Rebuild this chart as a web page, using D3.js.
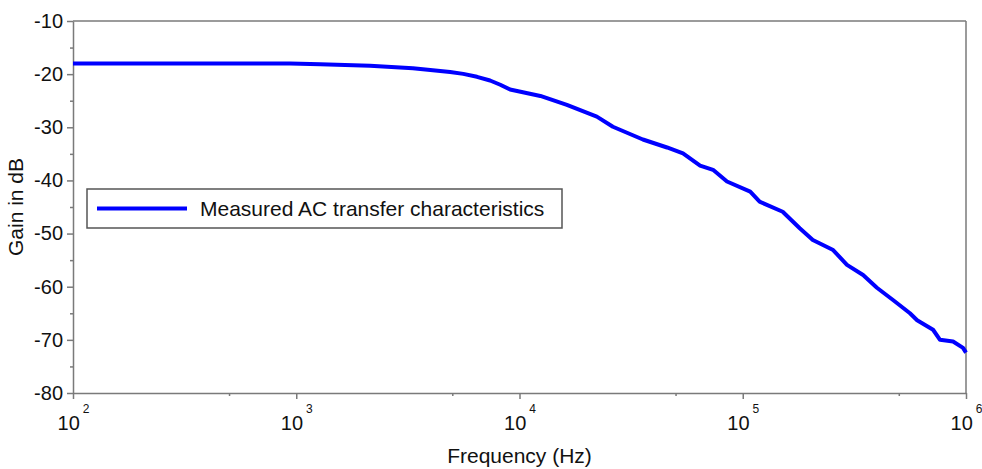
<!DOCTYPE html>
<html>
<head>
<meta charset="utf-8">
<script src="https://cdn.jsdelivr.net/npm/d3@7"></script>
<style>
  body { margin: 0; background: #fff; }
  svg { display: block; font-family: "Liberation Sans", Arial, sans-serif; }
  .axis path, .axis line { stroke: #7a7a7a; stroke-width: 1.5; }
  .axis text { fill: #111; }
</style>
</head>
<body>
<script>
// measured points
const frequencies = [100, 938, 1280, 2140, 3330, 4890, 5600, 6450, 7380, 8200, 9070, 12400, 16300, 22200,
  26200, 35700, 45800, 54000, 64400, 73600, 85000, 108000, 119000, 151000, 180000, 206000,
  254000, 293000, 346000, 399000, 471000, 561000, 604000, 712000, 765000, 875000, 970000, 1000000]
const gainDb = [-18.0, -18.0, -18.15, -18.4, -18.9, -19.6, -19.95, -20.5, -21.2, -22.0, -22.9, -24.1, -25.8, -28.0,
  -29.9, -32.3, -33.8, -34.9, -37.2, -38.0, -40.2, -42.1, -44.0, -45.9, -49.0, -51.2,
  -53.1, -55.9, -57.8, -60.2, -62.5, -65.0, -66.3, -68.1, -70.0, -70.3, -71.5, -72.4]

const xMajor = [1e2, 1e3, 1e4, 1e5, 1e6]
const xExponents = ['2', '3', '4', '5', '6']
const xMinor = [5e2, 5e3, 5e4, 5e5]
const yMajor = [-80, -70, -60, -50, -40, -30, -20, -10]
const yMinor = [-75, -65, -55, -45, -35, -25, -15]
const seriesName = 'Measured AC transfer characteristics'

const w = 982
const h = 469
const m = { top: 21, right: 16, bottom: 76, left: 73 }
const iw = w - m.left - m.right
const ih = h - m.top - m.bottom

const svg = d3.select('body')
  .append('svg')
  .attr('width', w)
  .attr('height', h)

const g = svg.append('g')
  .attr('transform', `translate(${m.left},${m.top})`)

const xScale = d3.scaleLog()
  .domain([1e2, 1e6])
  .range([0, iw])

const yScale = d3.scaleLinear()
  .domain([-80, -10])
  .range([ih, 0])

// frame top / right
g.append('line')
  .attr('x1', 0).attr('x2', iw).attr('y1', 0).attr('y2', 0)
  .attr('stroke', '#7a7a7a').attr('stroke-width', 1.5)
g.append('line')
  .attr('x1', iw).attr('x2', iw).attr('y1', 0).attr('y2', ih)
  .attr('stroke', '#7a7a7a').attr('stroke-width', 1.5)

// x axis
const xAxis = g.append('g')
  .attr('class', 'axis')
  .attr('transform', `translate(0,${ih})`)
  .call(d3.axisBottom(xScale).tickValues(xMajor).tickSize(6).tickSizeOuter(0).tickFormat(() => ''))

xAxis.selectAll('.tick text').remove()
xAxis.selectAll('.tick')
  .append('text')
  .attr('y', 37)
  .attr('text-anchor', 'middle')
  .attr('font-size', 20)
  .attr('fill', '#111')
  .each(function (d, i) {
    const t = d3.select(this)
    t.append('tspan').text('10')
    t.append('tspan')
      .attr('dx', 3)
      .attr('dy', -17)
      .attr('font-size', 12)
      .text(xExponents[i])
  })

g.append('g')
  .attr('class', 'axis')
  .attr('transform', `translate(0,${ih})`)
  .call(d3.axisBottom(xScale).tickValues(xMinor).tickSize(3).tickFormat(() => ''))
  .select('.domain').remove()

// y axis
g.append('g')
  .attr('class', 'axis')
  .call(d3.axisLeft(yScale).tickValues(yMajor).tickSize(6).tickSizeOuter(0).tickPadding(4)
    .tickFormat(d => String(d)))
  .selectAll('text')
  .attr('font-size', 20)

g.append('g')
  .attr('class', 'axis')
  .call(d3.axisLeft(yScale).tickValues(yMinor).tickSize(3).tickFormat(() => ''))
  .select('.domain').remove()

// axis titles
svg.append('text')
  .attr('x', m.left + iw / 2)
  .attr('y', 463)
  .attr('text-anchor', 'middle')
  .attr('font-size', 21)
  .attr('fill', '#111')
  .text('Frequency (Hz)')

svg.append('text')
  .attr('transform', `translate(23,${m.top + ih / 2}) rotate(-90)`)
  .attr('text-anchor', 'middle')
  .attr('font-size', 21)
  .attr('fill', '#111')
  .text('Gain in dB')

// the measured curve
const line = d3.line()
  .x((d, i) => xScale(frequencies[i]))
  .y(d => yScale(d))

g.append('path')
  .datum(gainDb)
  .attr('fill', 'none')
  .attr('stroke', '#0000ff')
  .attr('stroke-width', 4)
  .attr('stroke-linejoin', 'round')
  .attr('d', line)

// legend
const legend = svg.append('g')
  .attr('transform', 'translate(87,189)')

legend.append('rect')
  .attr('width', 475)
  .attr('height', 39)
  .attr('fill', '#fff')
  .attr('stroke', '#555')
  .attr('stroke-width', 1.5)

legend.append('line')
  .attr('x1', 10).attr('x2', 100)
  .attr('y1', 19.5).attr('y2', 19.5)
  .attr('stroke', '#0000ff')
  .attr('stroke-width', 4)

legend.append('text')
  .attr('x', 113)
  .attr('y', 27)
  .attr('font-size', 21)
  .attr('fill', '#111')
  .text(seriesName)
</script>
</body>
</html>
